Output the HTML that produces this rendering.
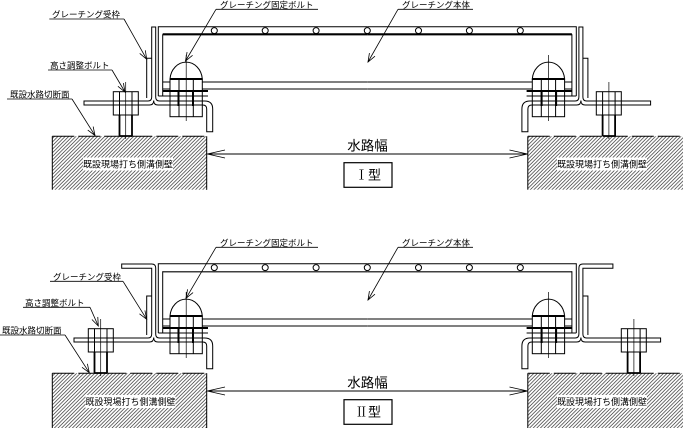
<!DOCTYPE html>
<html>
<head>
<meta charset="utf-8">
<style>
  html,body{margin:0;padding:0;background:#fff;}
  svg{display:block;}
  .lb{font-family:"Liberation Sans","Noto Sans CJK JP",sans-serif;font-size:8.5px;fill:#000;}
  .bt{font-family:"Liberation Sans","Noto Sans CJK JP",sans-serif;font-size:9px;fill:#000;}
  .dm{font-family:"Liberation Sans","Noto Sans CJK JP",sans-serif;font-size:13.5px;fill:#000;}
  .ty{font-size:13px;fill:#000;}
  .tys{font-family:"Liberation Serif","Noto Serif CJK SC",serif;}
  .tyg{font-family:"Liberation Sans","Noto Sans CJK JP",sans-serif;}
</style>
</head>
<body>
<svg width="683" height="428" viewBox="0 0 683 428" xmlns="http://www.w3.org/2000/svg">
<defs>
  <pattern id="hat" patternUnits="userSpaceOnUse" width="3.6" height="3.6">
    <path d="M0,3.6 L3.6,0 M-1,1 L1,-1 M2.6,4.6 L4.6,2.6" stroke="#222" stroke-width="0.65" fill="none"/>
  </pattern>
  <marker id="ar" markerWidth="10" markerHeight="8" refX="9" refY="4" orient="auto" markerUnits="userSpaceOnUse">
    <path d="M0.5,0.8 L9,4 L0.5,7.2" fill="none" stroke="#000" stroke-width="0.8"/>
  </marker>

  <!-- Type I left half -->
  <g id="h1" fill="none" stroke="#000" stroke-width="1">
    <path d="M158.3,96 V26.7 H367.3 M162.7,96 V34.3 M162.7,82 H367.3 M162.7,89 H367.3"/>
    <path d="M162.7,34.3 H367.3" stroke-width="2.2"/>
    <circle cx="214.3" cy="30.6" r="3"/>
    <circle cx="265.2" cy="30.6" r="3"/>
    <circle cx="316.1" cy="30.6" r="3"/>
    <path d="M170,79 A16.2,18.3 0 0 1 202.3,79 Z" fill="#fff"/>
    <rect x="170" y="79" width="32.3" height="37.7" fill="#fff"/>
    <path d="M170,79 H202.3" stroke-width="2"/>
    <path d="M179,79 V116.7 M193.3,79 V116.7"/>
    <path d="M178.5,91 V106 M193,91 V106" stroke-width="2"/>
    <path d="M162.7,91 H208" stroke-width="2"/>
    <path d="M158.3,96 H208"/>
    <path d="M84,101 H148 Q151.7,101 151.7,97 V27 H155.7 V97 Q155.7,101 159.5,101 H204.7 Q212.7,101 212.7,109 V131.7 H206.7 V109 Q206.7,105 202.7,105 H158 Q153.7,105 153.7,100.5 Q153.7,105 149.4,105 H84 Z"/>
    <path d="M146.7,98 V58.3 H151.7"/>
    <path d="M186.2,55 V121" stroke-width="0.7"/>
    <rect x="113.3" y="91.7" width="25" height="23.3"/>
    <path d="M119.5,91.7 V115 M132,91.7 V115"/>
    <path d="M125.7,82 V139" stroke-width="0.7"/>
    <path d="M119.5,115 V136 M132,115 V136 M119.5,136 H132" stroke-width="1.8"/>
  </g>

  <!-- Type II left half (local coords, shifted by 237) -->
  <g id="h2" fill="none" stroke="#000" stroke-width="1">
    <path d="M158.3,96 V26.7 H367.3 M162.7,96 V34.3 M162.7,82 H367.3 M162.7,89 H367.3"/>
    <path d="M162.7,34.8 H367.3" stroke-width="1.2"/>
    <circle cx="214.3" cy="30.6" r="3"/>
    <circle cx="265.2" cy="30.6" r="3"/>
    <circle cx="316.1" cy="30.6" r="3"/>
    <path d="M170,79 A16.2,18.3 0 0 1 202.3,79 Z" fill="#fff"/>
    <rect x="170" y="79" width="32.3" height="37.7" fill="#fff"/>
    <path d="M170,79 H202.3" stroke-width="2"/>
    <path d="M179,79 V116.7 M193.3,79 V116.7"/>
    <path d="M178.5,91 V106 M193,91 V106" stroke-width="2"/>
    <path d="M162.7,91 H208" stroke-width="2"/>
    <path d="M158.3,96 H208"/>
    <path d="M74,101 H148 Q151.7,101 151.7,97 V31.3 H121.7 V27 H151.7 Q155.7,27 155.7,31 V97 Q155.7,101 159.5,101 H204.7 Q212.7,101 212.7,109 V131.7 H206.7 V109 Q206.7,105 202.7,105 H158 Q153.7,105 153.7,100.5 Q153.7,105 149.4,105 H74 Z"/>
    <path d="M146.7,98 V59 H151.7"/>
    <path d="M186.2,55 V121" stroke-width="0.7"/>
    <rect x="88.3" y="91.7" width="25" height="23.3"/>
    <path d="M94.5,91.7 V115 M107,91.7 V115"/>
    <path d="M100.7,82 V139" stroke-width="0.7"/>
    <path d="M94.5,115 V136 M107,115 V136 M94.5,136 H107" stroke-width="1.8"/>
  </g>
</defs>

<rect x="0" y="0" width="683" height="428" fill="#fff"/>

<!-- ===== Type I ===== -->
<rect x="52.3" y="136.3" width="154.4" height="53.4" fill="url(#hat)"/>
<path d="M52.3,136.3 V189.7 M206.7,136.3 V189.7" stroke="#000" stroke-width="1"/>
<path d="M52.3,136.3 H206.7" stroke="#000" stroke-width="1" stroke-dasharray="22 4"/>
<rect x="527.8" y="136.3" width="156" height="53.4" fill="url(#hat)"/>
<path d="M527.8,136.3 V189.7" stroke="#000" stroke-width="1"/>
<path d="M527.8,136.3 H683" stroke="#000" stroke-width="1" stroke-dasharray="22 4"/>
<rect x="83" y="157.5" width="90" height="13" fill="#fff"/>
<text class="bt" x="128" y="167.5" text-anchor="middle">既設現場打ち側溝側壁</text>
<rect x="557" y="157.5" width="90" height="13" fill="#fff"/>
<text class="bt" x="602" y="167.5" text-anchor="middle">既設現場打ち側溝側壁</text>

<use href="#h1"/>
<use href="#h1" transform="translate(734.6,0) scale(-1,1)"/>
<circle cx="367.3" cy="30.6" r="3" fill="none" stroke="#000" stroke-width="1"/>

<path d="M207.3,154 H527.5" stroke="#000" stroke-width="1"/>
<path d="M225,150 L207.3,154 L225,158 M509.5,150 L527.5,154 L509.5,158" fill="none" stroke="#000" stroke-width="0.8"/>
<text class="dm" x="367.5" y="150.5" text-anchor="middle">水路幅</text>
<rect x="344" y="162.7" width="48" height="24.6" fill="none" stroke="#000" stroke-width="1.2"/>
<text class="ty" x="368" y="179.5" text-anchor="middle"><tspan class="tys">Ⅰ</tspan><tspan class="tyg">型</tspan></text>

<g fill="none" stroke="#000" stroke-width="0.8">
  <path d="M49.3,19 H124"/>
  <path d="M124,19 L146.7,59.3" marker-end="url(#ar)"/>
  <path d="M48,70 H112"/>
  <path d="M112,70 L125,92" marker-end="url(#ar)"/>
  <path d="M7,99 H72"/>
  <path d="M72,99 L95,135.5" marker-end="url(#ar)"/>
  <path d="M216,9.3 H318"/>
  <path d="M216,9.3 L185.5,61" marker-end="url(#ar)"/>
  <path d="M398,9.3 H473"/>
  <path d="M398,9.3 L368,62" marker-end="url(#ar)"/>
</g>
<text class="lb" x="52" y="17.5">グレーチング受枠</text>
<text class="lb" x="50" y="68.5">高さ調整ボルト</text>
<text class="lb" x="10" y="97.5">既設水路切断面</text>
<text class="lb" x="220" y="7.8">グレーチング固定ボルト</text>
<text class="lb" x="402" y="7.8">グレーチング本体</text>

<!-- ===== Type II ===== -->
<rect x="52.3" y="373.3" width="154.4" height="56" fill="url(#hat)"/>
<path d="M52.3,373.3 V428 M206.7,373.3 V428" stroke="#000" stroke-width="1"/>
<path d="M52.3,373.3 H206.7" stroke="#000" stroke-width="1" stroke-dasharray="22 4"/>
<rect x="527.8" y="373.3" width="156" height="56" fill="url(#hat)"/>
<path d="M527.8,373.3 V428" stroke="#000" stroke-width="1"/>
<path d="M527.8,373.3 H683" stroke="#000" stroke-width="1" stroke-dasharray="22 4"/>
<rect x="85.5" y="395" width="90" height="13" fill="#fff"/>
<text class="bt" x="130.5" y="405" text-anchor="middle">既設現場打ち側溝側壁</text>
<rect x="557" y="395" width="90" height="13" fill="#fff"/>
<text class="bt" x="602" y="405" text-anchor="middle">既設現場打ち側溝側壁</text>

<use href="#h2" transform="translate(0,237)"/>
<use href="#h2" transform="translate(734.6,237) scale(-1,1)"/>
<circle cx="367.3" cy="267.6" r="3" fill="none" stroke="#000" stroke-width="1"/>

<path d="M207.3,391 H527.5" stroke="#000" stroke-width="1"/>
<path d="M225,387 L207.3,391 L225,395 M509.5,387 L527.5,391 L509.5,395" fill="none" stroke="#000" stroke-width="0.8"/>
<text class="dm" x="367.5" y="387.5" text-anchor="middle">水路幅</text>
<rect x="344" y="399.7" width="48" height="24.6" fill="none" stroke="#000" stroke-width="1.2"/>
<text class="ty" x="368" y="416.5" text-anchor="middle"><tspan class="tys">Ⅱ</tspan><tspan class="tyg">型</tspan></text>

<g fill="none" stroke="#000" stroke-width="0.8">
  <path d="M50,281.3 H123"/>
  <path d="M123,281.3 L146.7,319.3" marker-end="url(#ar)"/>
  <path d="M23,307.3 H90"/>
  <path d="M90,307.3 L98.3,326" marker-end="url(#ar)"/>
  <path d="M0,335 H65"/>
  <path d="M65,335 L89.3,372.7" marker-end="url(#ar)"/>
  <path d="M216,247.3 H318"/>
  <path d="M216,247.3 L186,298.3" marker-end="url(#ar)"/>
  <path d="M398,247.3 H473"/>
  <path d="M398,247.3 L368,300" marker-end="url(#ar)"/>
</g>
<text class="lb" x="53" y="279.8">グレーチング受枠</text>
<text class="lb" x="25" y="305.8">高さ調整ボルト</text>
<text class="lb" x="2" y="333.5">既設水路切断面</text>
<text class="lb" x="220" y="245.8">グレーチング固定ボルト</text>
<text class="lb" x="402" y="245.8">グレーチング本体</text>
</svg>
</body>
</html>
